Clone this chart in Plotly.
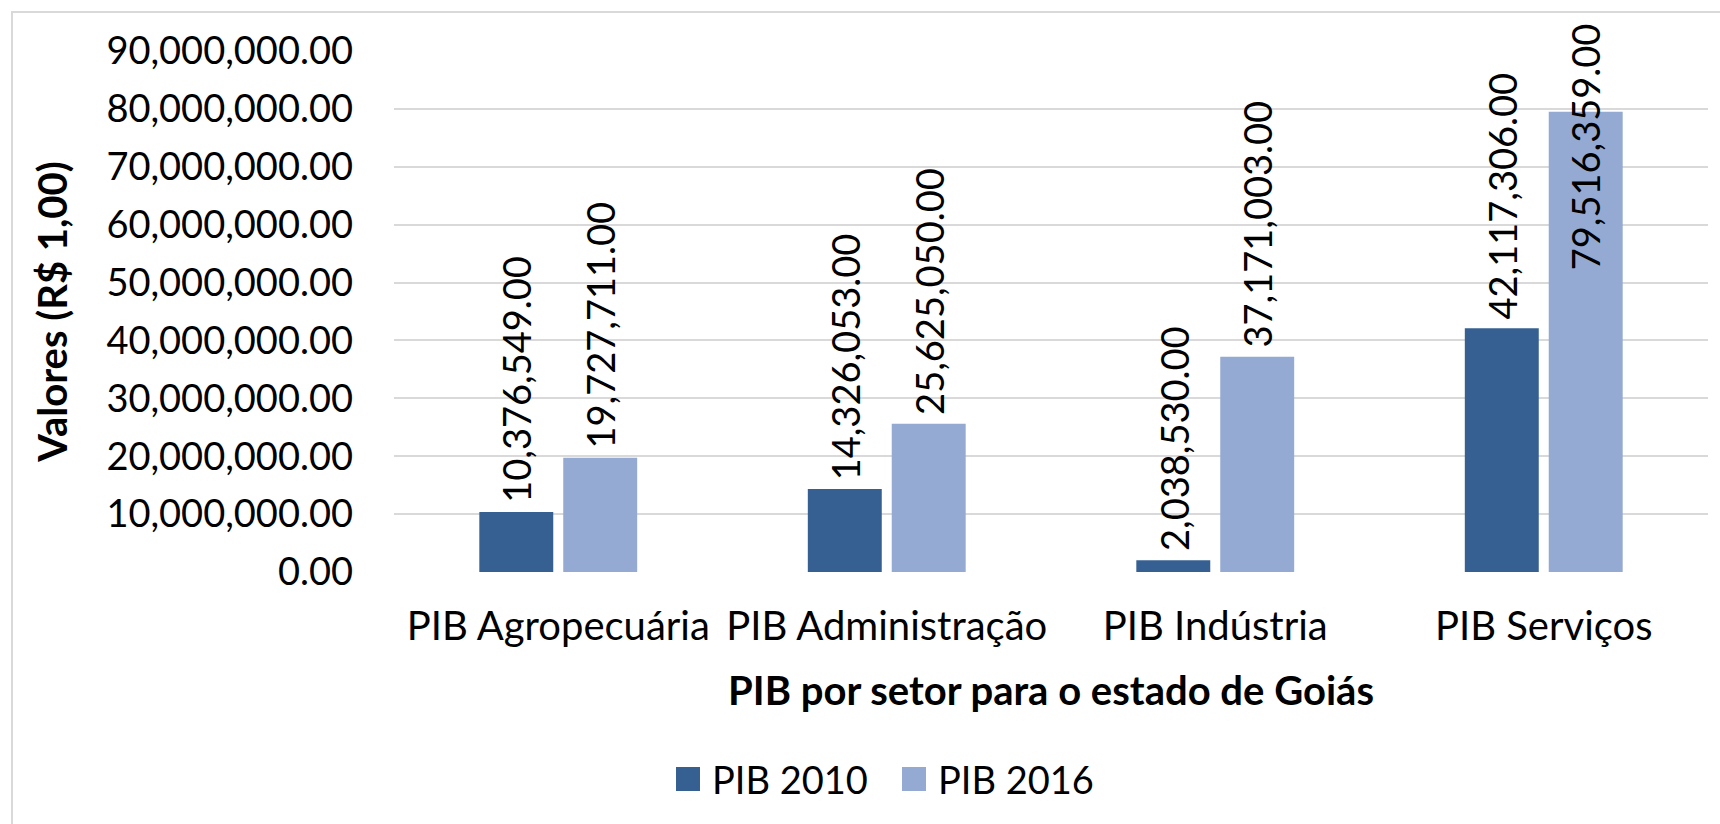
import plotly.graph_objects as go

# ---- data ----
categories = ["PIB Agropecuária", "PIB Administração", "PIB Indústria", "PIB Serviços"]
pib_2010 = [10376549.00, 14326053.00, 2038530.00, 42117306.00]
pib_2016 = [19727711.00, 25625050.00, 37171003.00, 79516359.00]
series_names = ["PIB 2010", "PIB 2016"]
y_tick_values = [0, 10e6, 20e6, 30e6, 40e6, 50e6, 60e6, 70e6, 80e6, 90e6]
x_title = "PIB por setor para o estado de Goiás"
y_title = "Valores (R$ 1,00)"

# ---- style ----
W, H = 1720, 824
L, R, T, B = 394, 1708, 51, 572
FONT = "Lato, 'Open Sans', sans-serif"
C2010 = "#376092"
C2016 = "#95AAD2"
GRID = "#D9D9D9"
BARGAP = 0.489
GROUPGAP = 0.119
FS = 38
FS_CAT = 40
FS_TITLE = 40


def px_x(px):
    return (px - L) / (R - L)


def px_y(py):
    return (B - py) / (B - T)


fig = go.Figure()
fig.add_trace(go.Bar(name=series_names[0], x=categories, y=pib_2010,
                     marker=dict(color=C2010, line=dict(width=0)), showlegend=False))
fig.add_trace(go.Bar(name=series_names[1], x=categories, y=pib_2016,
                     marker=dict(color=C2016, line=dict(width=0)), showlegend=False))

ymax = 90e6
px_per_unit = (B - T) / ymax
label_len_px = 250
label_gap_px = 7
top_limit_px = 21  # labels may not go above the chart area

annotations = []
offset = (1 - BARGAP) / 4
for s_idx, vals in enumerate([pib_2010, pib_2016]):
    dx = -offset if s_idx == 0 else offset
    for i, v in enumerate(vals):
        txt = f"{v:,.2f}"
        bar_top_px = B - v * px_per_unit
        if bar_top_px - label_gap_px - label_len_px >= top_limit_px:
            annotations.append(dict(x=i + dx, y=v, xref="x", yref="y", text=txt,
                                    textangle=-90, showarrow=False, yanchor="bottom",
                                    xanchor="center", yshift=label_gap_px,
                                    font=dict(family=FONT, size=FS, color="#000000")))
        else:
            annotations.append(dict(x=i + dx, y=px_y(top_limit_px), xref="x", yref="paper",
                                    text=txt, textangle=-90, showarrow=False, yanchor="top",
                                    xanchor="center",
                                    font=dict(family=FONT, size=FS, color="#000000")))

# manual legend (large square swatches as in the reference)
legend_items = [(series_names[0], C2010, 676), (series_names[1], C2016, 902)]
shapes = []
for name, col, x0 in legend_items:
    shapes.append(dict(type="rect", xref="paper", yref="paper",
                       x0=px_x(x0), x1=px_x(x0 + 24), y0=px_y(791), y1=px_y(767),
                       fillcolor=col, line=dict(width=0)))
    annotations.append(dict(x=px_x(x0 + 34), y=px_y(779), xref="paper", yref="paper",
                            text=name, showarrow=False, xanchor="left", yanchor="middle",
                            font=dict(family=FONT, size=FS, color="#000000")))

# chart-area border (left and top edges visible)
shapes.append(dict(type="rect", xref="paper", yref="paper",
                   x0=px_x(12), x1=px_x(1780), y0=px_y(900), y1=px_y(12),
                   line=dict(color=GRID, width=2), fillcolor="rgba(0,0,0,0)", layer="below"))

fig.update_layout(
    width=W, height=H,
    margin=dict(l=L, r=W - R, t=T, b=H - B, autoexpand=False),
    paper_bgcolor="white", plot_bgcolor="white",
    barmode="group", bargap=BARGAP, bargroupgap=GROUPGAP,
    font=dict(family=FONT, size=FS, color="#000000"),
    annotations=annotations, shapes=shapes,
    showlegend=False,
    xaxis=dict(
        type="category", showgrid=False, showline=False, zeroline=False,
        ticks="", ticklabelstandoff=27,
        tickfont=dict(family=FONT, size=FS_CAT, color="#000000"),
        title=dict(text=f"<b>{x_title}</b>", standoff=28,
                   font=dict(family=FONT, size=FS_TITLE, color="#000000")),
    ),
    yaxis=dict(
        range=[0, ymax], tickvals=y_tick_values, tickformat=",.2f",
        showgrid=True, gridcolor=GRID, gridwidth=2, zeroline=False, showline=False,
        ticks="", ticklabelstandoff=40,
        tickfont=dict(family=FONT, size=FS, color="#000000"),
        title=dict(text=f"<b>{y_title}</b>", standoff=26,
                   font=dict(family=FONT, size=FS_TITLE, color="#000000")),
    ),
)

fig.write_html("out.html", config={"displayModeBar": False},
               post_script="document.body.style.margin='0';")
